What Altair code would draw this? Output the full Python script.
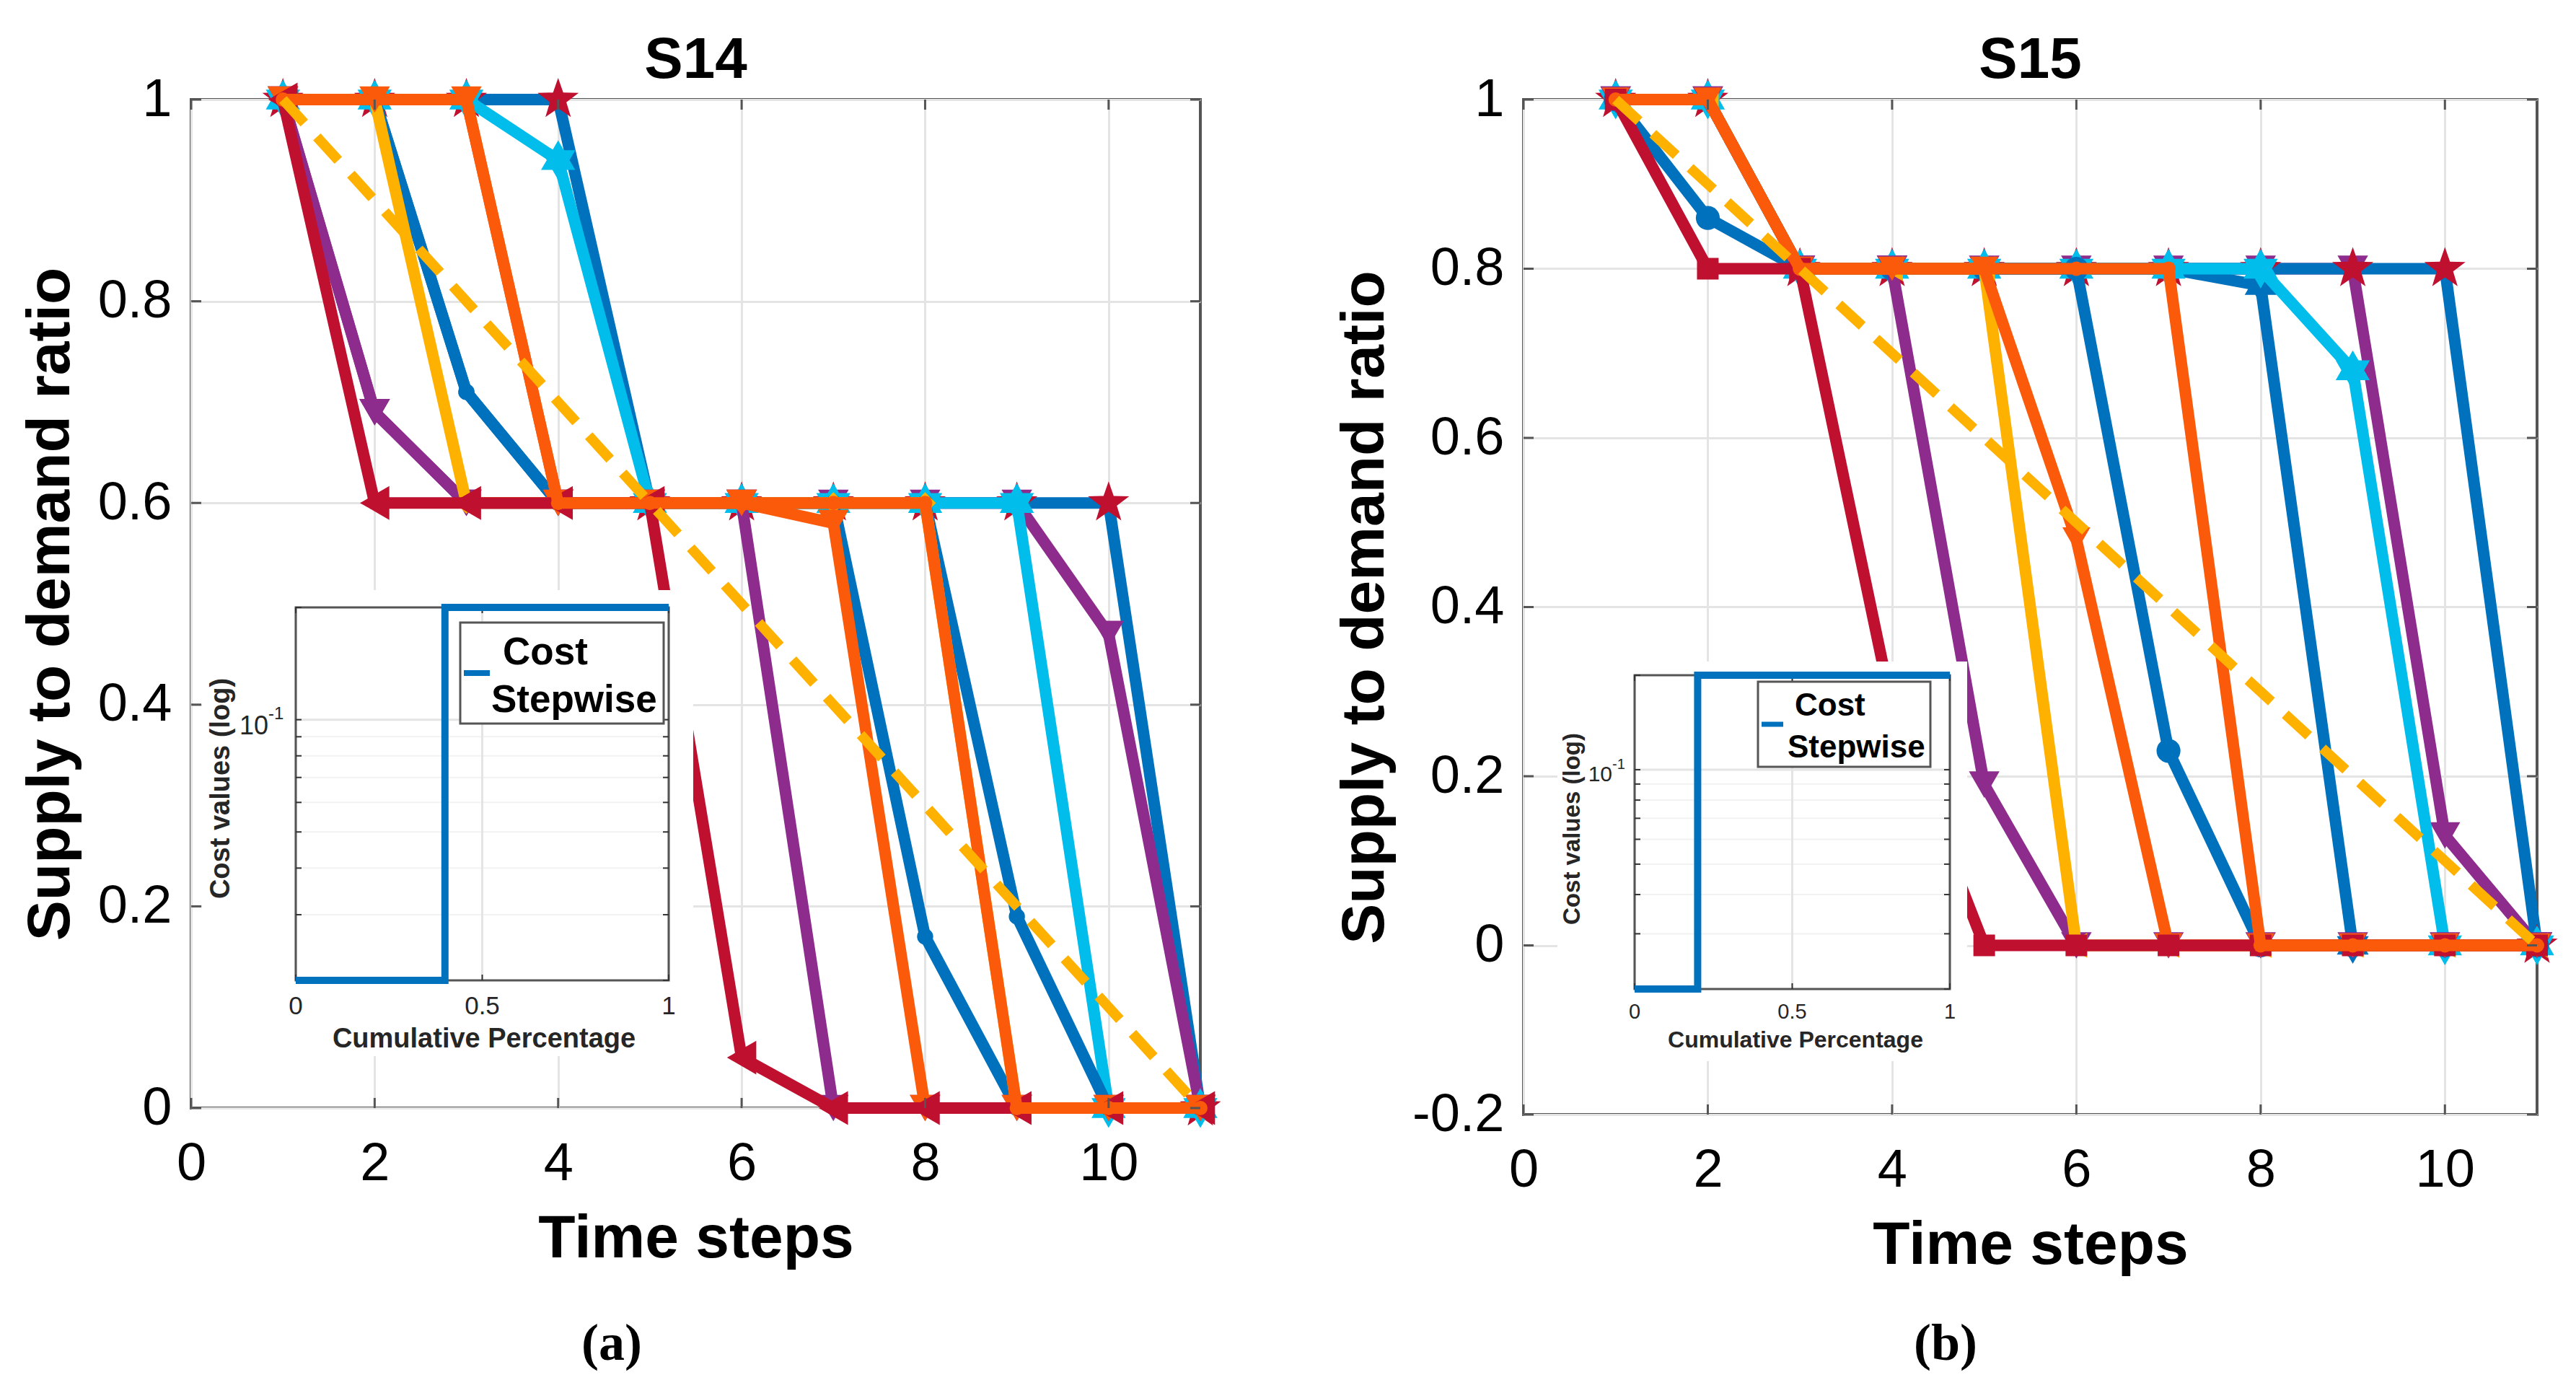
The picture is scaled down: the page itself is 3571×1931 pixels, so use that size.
import altair as alt
import pandas as pd

alt.data_transformers.disable_max_rows()

# time axis shared by every curve
steps = list(range(1, 12))
ideal_steps = [1, 11]
ideal_ratio = [1.0, 0.0]

x_ticks = [0, 2, 4, 6, 8, 10]
s14_y_ticks = [0, 0.2, 0.4, 0.6, 0.8, 1]
s15_y_ticks = [-0.2, 0, 0.2, 0.4, 0.6, 0.8, 1]

# S14 supply to demand ratios
s14_dark_blue = [1, 1, 1, 1, 0.6, 0.6, 0.6, 0.6, 0.6, 0.6, 0]
s14_purple_late = [1, 0.69, 0.6, 0.6, 0.6, 0.6, 0.6, 0.6, 0.6, 0.47, 0]
s14_light_blue = [1, 1, 1, 0.94, 0.6, 0.6, 0.6, 0.6, 0.6, 0, 0]
s14_blue_late = [1, 1, 0.71, 0.6, 0.6, 0.6, 0.6, 0.6, 0.19, 0, 0]
s14_blue_early = [1, 1, 0.71, 0.6, 0.6, 0.6, 0.6, 0.17, 0, 0, 0]
s14_purple_early = [1, 0.69, 0.6, 0.6, 0.6, 0.6, 0, 0, 0, 0, 0]
s14_yellow = [1, 1, 0.6, 0.6, 0.6, 0.6, 0.6, 0.6, 0, 0, 0]
s14_orange_early = [1, 1, 1, 0.6, 0.6, 0.6, 0.58, 0, 0, 0, 0]
s14_red = [1, 0.6, 0.6, 0.6, 0.6, 0.05, 0, 0, 0, 0, 0]
s14_orange_late = [1, 1, 1, 0.6, 0.6, 0.6, 0.6, 0.6, 0, 0, 0]

# S15 supply to demand ratios
s15_purple_late = [1, 1, 0.8, 0.8, 0.8, 0.8, 0.8, 0.8, 0.8, 0.13, 0]
s15_dark_blue = [1, 1, 0.8, 0.8, 0.8, 0.8, 0.8, 0.8, 0.8, 0.8, 0]
s15_blue_late = [1, 1, 0.8, 0.8, 0.8, 0.8, 0.8, 0.78, 0, 0, 0]
s15_light_blue = [1, 1, 0.8, 0.8, 0.8, 0.8, 0.8, 0.8, 0.68, 0, 0]
s15_blue_early = [1, 0.86, 0.8, 0.8, 0.8, 0.8, 0.23, 0, 0, 0, 0]
s15_purple_early = [1, 1, 0.8, 0.8, 0.19, 0, 0, 0, 0, 0, 0]
s15_yellow = [1, 1, 0.8, 0.8, 0.8, 0, 0, 0, 0, 0, 0]
s15_orange_early = [1, 1, 0.8, 0.8, 0.8, 0.48, 0, 0, 0, 0, 0]
s15_red = [1, 0.8, 0.8, 0.28, 0, 0, 0, 0, 0, 0, 0]
s15_orange_late = [1, 1, 0.8, 0.8, 0.8, 0.8, 0.8, 0, 0, 0, 0]

# inset: stepwise cost curve
s14_cost_share = [0, 0.4, 1]
s15_cost_share = [0, 0.2, 1]
cost_value = [0.02, 0.2, 0.2]
inset_x_ticks = [0, 0.5, 1]
inset_x_labels = ["0", "0.5", "1"]
inset_y_minor = [0.02, 0.03, 0.04, 0.05, 0.06, 0.07, 0.08, 0.09, 0.1, 0.2]
inset_y_major = [0.1]

SANS = "Liberation Sans"
SERIF = "Liberation Serif"
FRAME = "#555555"
RED = "#C01030"
PURPLE = "#8E2C8E"
YELLOW = "#FFB100"
ORANGE = "#FA5A0A"
BLUE = "#0072BD"
LIGHT = "#00BDEB"

STAR = "M0,-1L0.235,-0.324L0.951,-0.309L0.38,0.124L0.588,0.809L0,0.4L-0.588,0.809L-0.38,0.124L-0.951,-0.309L-0.235,-0.324Z"
HEX = "M0,-1L0.289,-0.5L0.866,-0.5L0.577,0L0.866,0.5L0.289,0.5L0,1L-0.289,0.5L-0.866,0.5L-0.577,0L-0.866,-0.5L-0.289,-0.5Z"

# (values, line colour, marker, marker colour, marker size) in drawing order
s14_series = [
    (s14_dark_blue, BLUE, STAR, RED, 3600),
    (s14_purple_late, PURPLE, "triangle-down", PURPLE, 1800),
    (s14_light_blue, LIGHT, HEX, LIGHT, 3000),
    (s14_blue_late, BLUE, "circle", BLUE, 500),
    (s14_blue_early, BLUE, "circle", BLUE, 500),
    (s14_purple_early, PURPLE, "triangle-down", PURPLE, 1800),
    (s14_yellow, YELLOW, "diamond", YELLOW, 900),
    (s14_orange_early, ORANGE, "triangle-down", ORANGE, 1800),
    (s14_red, RED, "triangle-left", RED, 2200),
    (s14_orange_late, ORANGE, "circle", ORANGE, 400),
]
s15_series = [
    (s15_purple_late, PURPLE, "triangle-down", PURPLE, 1800),
    (s15_dark_blue, BLUE, STAR, RED, 3600),
    (s15_blue_late, BLUE, HEX, BLUE, 2600),
    (s15_light_blue, LIGHT, HEX, LIGHT, 3000),
    (s15_blue_early, BLUE, "circle", BLUE, 1100),
    (s15_purple_early, PURPLE, "triangle-down", PURPLE, 1800),
    (s15_yellow, YELLOW, "triangle-left", YELLOW, 1200),
    (s15_orange_early, ORANGE, "triangle-down", ORANGE, 1500),
    (s15_red, RED, "square", RED, 900),
    (s15_orange_late, ORANGE, "circle", ORANGE, 400),
]

# pixel layout of each panel (plot area, inset, inset texts)
s14_box = dict(w=1399, h=1398, wx=(15, 696), wy=(680, 1326), ix=(145, 662), iy=(704, 1221),
               tick_y=1257, tick_fs=35, xlab=(406, 1303, 38), ylab=(42, 955, 38),
               exp=(107, 9, 36, -8, 24), leg_box=(373, 655, 725, 865), leg_line=(378, 414, 795, 8),
               leg_text=(432, 783, 416, 849, 53), tag=(583, 1725, "(a)"))
s15_box = dict(w=1405, h=1407, wx=(47, 615), wy=(779, 1333), ix=(154, 591), iy=(798, 1233),
               tick_y=1265, tick_fs=29, xlab=(377, 1304, 32), ylab=(68, 1011, 33),
               exp=(123, 7, 30, -7, 20), leg_box=(325, 564, 807, 925), leg_line=(330, 360, 866, 7),
               leg_text=(376, 854, 366, 912, 44), tag=(585, 1725, "(b)"))


def one_row():
    return pd.DataFrame({"k": [0]})


def build_panel(title, series, y_domain, y_ticks, cost_share, box):
    w, h = box["w"], box["h"]
    axis_style = dict(labelFont=SANS, labelFontSize=74, labelColor="black", titleFont=SANS,
                      titleFontSize=84, titleFontWeight="bold", titleColor="black",
                      grid=True, gridColor="#e4e4e4", gridWidth=3, domain=False, ticks=False,
                      labelFlush=False, labelOverlap=False, format="~r",
                      labelExpr="replace(datum.label, '\u2212', '-')")
    x_enc = alt.X("step:Q", scale=alt.Scale(domain=[0, 11], nice=False, zero=False),
                  axis=alt.Axis(values=x_ticks, title="Time steps", labelPadding=41, titlePadding=26, **axis_style))
    y_enc = alt.Y("ratio:Q", scale=alt.Scale(domain=y_domain, nice=False, zero=False),
                  axis=alt.Axis(values=y_ticks, title="Supply to demand ratio", labelPadding=27, titlePadding=22, **axis_style))

    main = []
    for values, line_color, shape, marker_color, size in series:
        base = alt.Chart(pd.DataFrame({"step": steps, "ratio": values})).encode(x=x_enc, y=y_enc)
        main.append(base.mark_line(color=line_color, strokeWidth=16))
        main.append(base.mark_point(shape=shape, filled=True, size=size, color=marker_color, opacity=1))

    main.append(alt.Chart(pd.DataFrame({"step": ideal_steps, "ratio": ideal_ratio}))
                .mark_line(color=YELLOW, strokeWidth=14, strokeDash=[44, 26])
                .encode(x=x_enc, y=y_enc))

    # inward ticks like the matlab box
    xt = alt.Chart(pd.DataFrame({"step": x_ticks}))
    yt = alt.Chart(pd.DataFrame({"ratio": y_ticks}))
    main.append(xt.mark_rule(color=FRAME, strokeWidth=3).encode(x=x_enc, y=alt.value(h), y2=alt.value(h - 14)))
    main.append(xt.mark_rule(color=FRAME, strokeWidth=3).encode(x=x_enc, y=alt.value(0), y2=alt.value(14)))
    main.append(yt.mark_rule(color=FRAME, strokeWidth=3).encode(y=y_enc, x=alt.value(0), x2=alt.value(14)))
    main.append(yt.mark_rule(color=FRAME, strokeWidth=3).encode(y=y_enc, x=alt.value(w - 14), x2=alt.value(w)))

    # panel title and sub-figure tag
    main.append(alt.Chart(one_row()).mark_text(font=SANS, fontSize=80, fontWeight="bold", color="black",
                                               baseline="alphabetic")
                .encode(x=alt.value(w / 2), y=alt.value(-30), text=alt.value(title)))
    tx, ty, tag = box["tag"]
    main.append(alt.Chart(one_row()).mark_text(font=SERIF, fontSize=72, fontWeight="bold", color="black",
                                               baseline="middle")
                .encode(x=alt.value(tx), y=alt.value(ty), text=alt.value(tag)))

    # inset axes
    ix0, ix1 = box["ix"]
    iy0, iy1 = box["iy"]
    x_in = alt.X("share:Q", scale=alt.Scale(domain=[0, 1], range=[ix0, ix1], nice=False, zero=False), axis=None)
    y_in = alt.Y("cost:Q", scale=alt.Scale(type="log", domain=[0.02, 0.2], range=[iy1, iy0], nice=False), axis=None)

    inset = []
    wx0, wx1 = box["wx"]
    wy0, wy1 = box["wy"]
    inset.append(alt.Chart(one_row()).mark_rect(color="white")
                 .encode(x=alt.value(wx0), x2=alt.value(wx1), y=alt.value(wy0), y2=alt.value(wy1)))

    minor = alt.Chart(pd.DataFrame({"cost": inset_y_minor}))
    major = alt.Chart(pd.DataFrame({"cost": inset_y_major}))
    inset.append(minor.mark_rule(color="#f2f2f2", strokeWidth=2)
                 .encode(y=y_in, x=alt.value(ix0), x2=alt.value(ix1)))
    inset.append(major.mark_rule(color="#e4e4e4", strokeWidth=3)
                 .encode(y=y_in, x=alt.value(ix0), x2=alt.value(ix1)))
    xticks_in = alt.Chart(pd.DataFrame({"share": inset_x_ticks, "label": inset_x_labels}))
    inset.append(xticks_in.mark_rule(color="#e4e4e4", strokeWidth=3)
                 .encode(x=x_in, y=alt.value(iy0), y2=alt.value(iy1)))

    inset.append(alt.Chart(one_row()).mark_rect(fillOpacity=0, stroke=FRAME, strokeWidth=3)
                 .encode(x=alt.value(ix0), x2=alt.value(ix1), y=alt.value(iy0), y2=alt.value(iy1)))
    inset.append(minor.mark_rule(color="#333333", strokeWidth=2)
                 .encode(y=y_in, x=alt.value(ix0), x2=alt.value(ix0 + 8)))
    inset.append(minor.mark_rule(color="#333333", strokeWidth=2)
                 .encode(y=y_in, x=alt.value(ix1 - 8), x2=alt.value(ix1)))
    inset.append(xticks_in.mark_rule(color="#333333", strokeWidth=2)
                 .encode(x=x_in, y=alt.value(iy1), y2=alt.value(iy1 - 8)))
    inset.append(xticks_in.mark_rule(color="#333333", strokeWidth=2)
                 .encode(x=x_in, y=alt.value(iy0), y2=alt.value(iy0 + 8)))

    inset.append(alt.Chart(pd.DataFrame({"share": cost_share, "cost": cost_value}))
                 .mark_line(interpolate="step-after", color=BLUE, strokeWidth=10)
                 .encode(x=x_in, y=y_in))

    inset.append(xticks_in.mark_text(font=SANS, fontSize=box["tick_fs"], color="#262626", baseline="middle")
                 .encode(x=x_in, y=alt.value(box["tick_y"]), text="label:N"))

    ex, edy, efs, sdy, sfs = box["exp"]
    inset.append(major.mark_text(font=SANS, fontSize=efs, color="#262626", align="right", baseline="middle", dy=edy)
                 .encode(y=y_in, x=alt.value(ex), text=alt.value("10")))
    inset.append(major.mark_text(font=SANS, fontSize=sfs, color="#262626", align="left", baseline="middle", dy=sdy)
                 .encode(y=y_in, x=alt.value(ex), text=alt.value("-1")))

    lx, ly, lfs = box["xlab"]
    inset.append(alt.Chart(one_row()).mark_text(font=SANS, fontSize=lfs, fontWeight="bold", color="#262626",
                                                baseline="middle")
                 .encode(x=alt.value(lx), y=alt.value(ly), text=alt.value("Cumulative Percentage")))
    vx, vy, vfs = box["ylab"]
    inset.append(alt.Chart(one_row()).mark_text(font=SANS, fontSize=vfs, fontWeight="bold", color="#262626",
                                                baseline="middle", angle=270)
                 .encode(x=alt.value(vx), y=alt.value(vy), text=alt.value("Cost values (log)")))

    bx0, bx1, by0, by1 = box["leg_box"]
    inset.append(alt.Chart(one_row()).mark_rect(color="white", stroke="#555555", strokeWidth=3)
                 .encode(x=alt.value(bx0), x2=alt.value(bx1), y=alt.value(by0), y2=alt.value(by1)))
    sx0, sx1, sy, sw = box["leg_line"]
    inset.append(alt.Chart(one_row()).mark_rule(color=BLUE, strokeWidth=sw)
                 .encode(x=alt.value(sx0), x2=alt.value(sx1), y=alt.value(sy)))
    cx, cy, stx, sty, tfs = box["leg_text"]
    inset.append(alt.Chart(one_row()).mark_text(font=SANS, fontSize=tfs, fontWeight="bold", color="black",
                                                align="left", baseline="alphabetic")
                 .encode(x=alt.value(cx), y=alt.value(cy), text=alt.value("Cost")))
    inset.append(alt.Chart(one_row()).mark_text(font=SANS, fontSize=tfs, fontWeight="bold", color="black",
                                                align="left", baseline="alphabetic")
                 .encode(x=alt.value(stx), y=alt.value(sty), text=alt.value("Stepwise")))

    return alt.layer(alt.layer(*main), alt.layer(*inset)).resolve_scale(
        x="independent", y="independent"
    ).properties(width=w, height=h)


left = build_panel("S14", s14_series, [0, 1], s14_y_ticks, s14_cost_share, s14_box)
right = build_panel("S15", s15_series, [-0.2, 1], s15_y_ticks, s15_cost_share, s15_box)

chart = alt.hconcat(left, right, spacing=448, bounds="flush").properties(
    padding={"left": 18, "top": 34, "right": 5, "bottom": 5},
    background="white",
).configure_view(stroke=FRAME, strokeWidth=4)

chart.save("out.html", embed_options={"renderer": "svg", "actions": False})
